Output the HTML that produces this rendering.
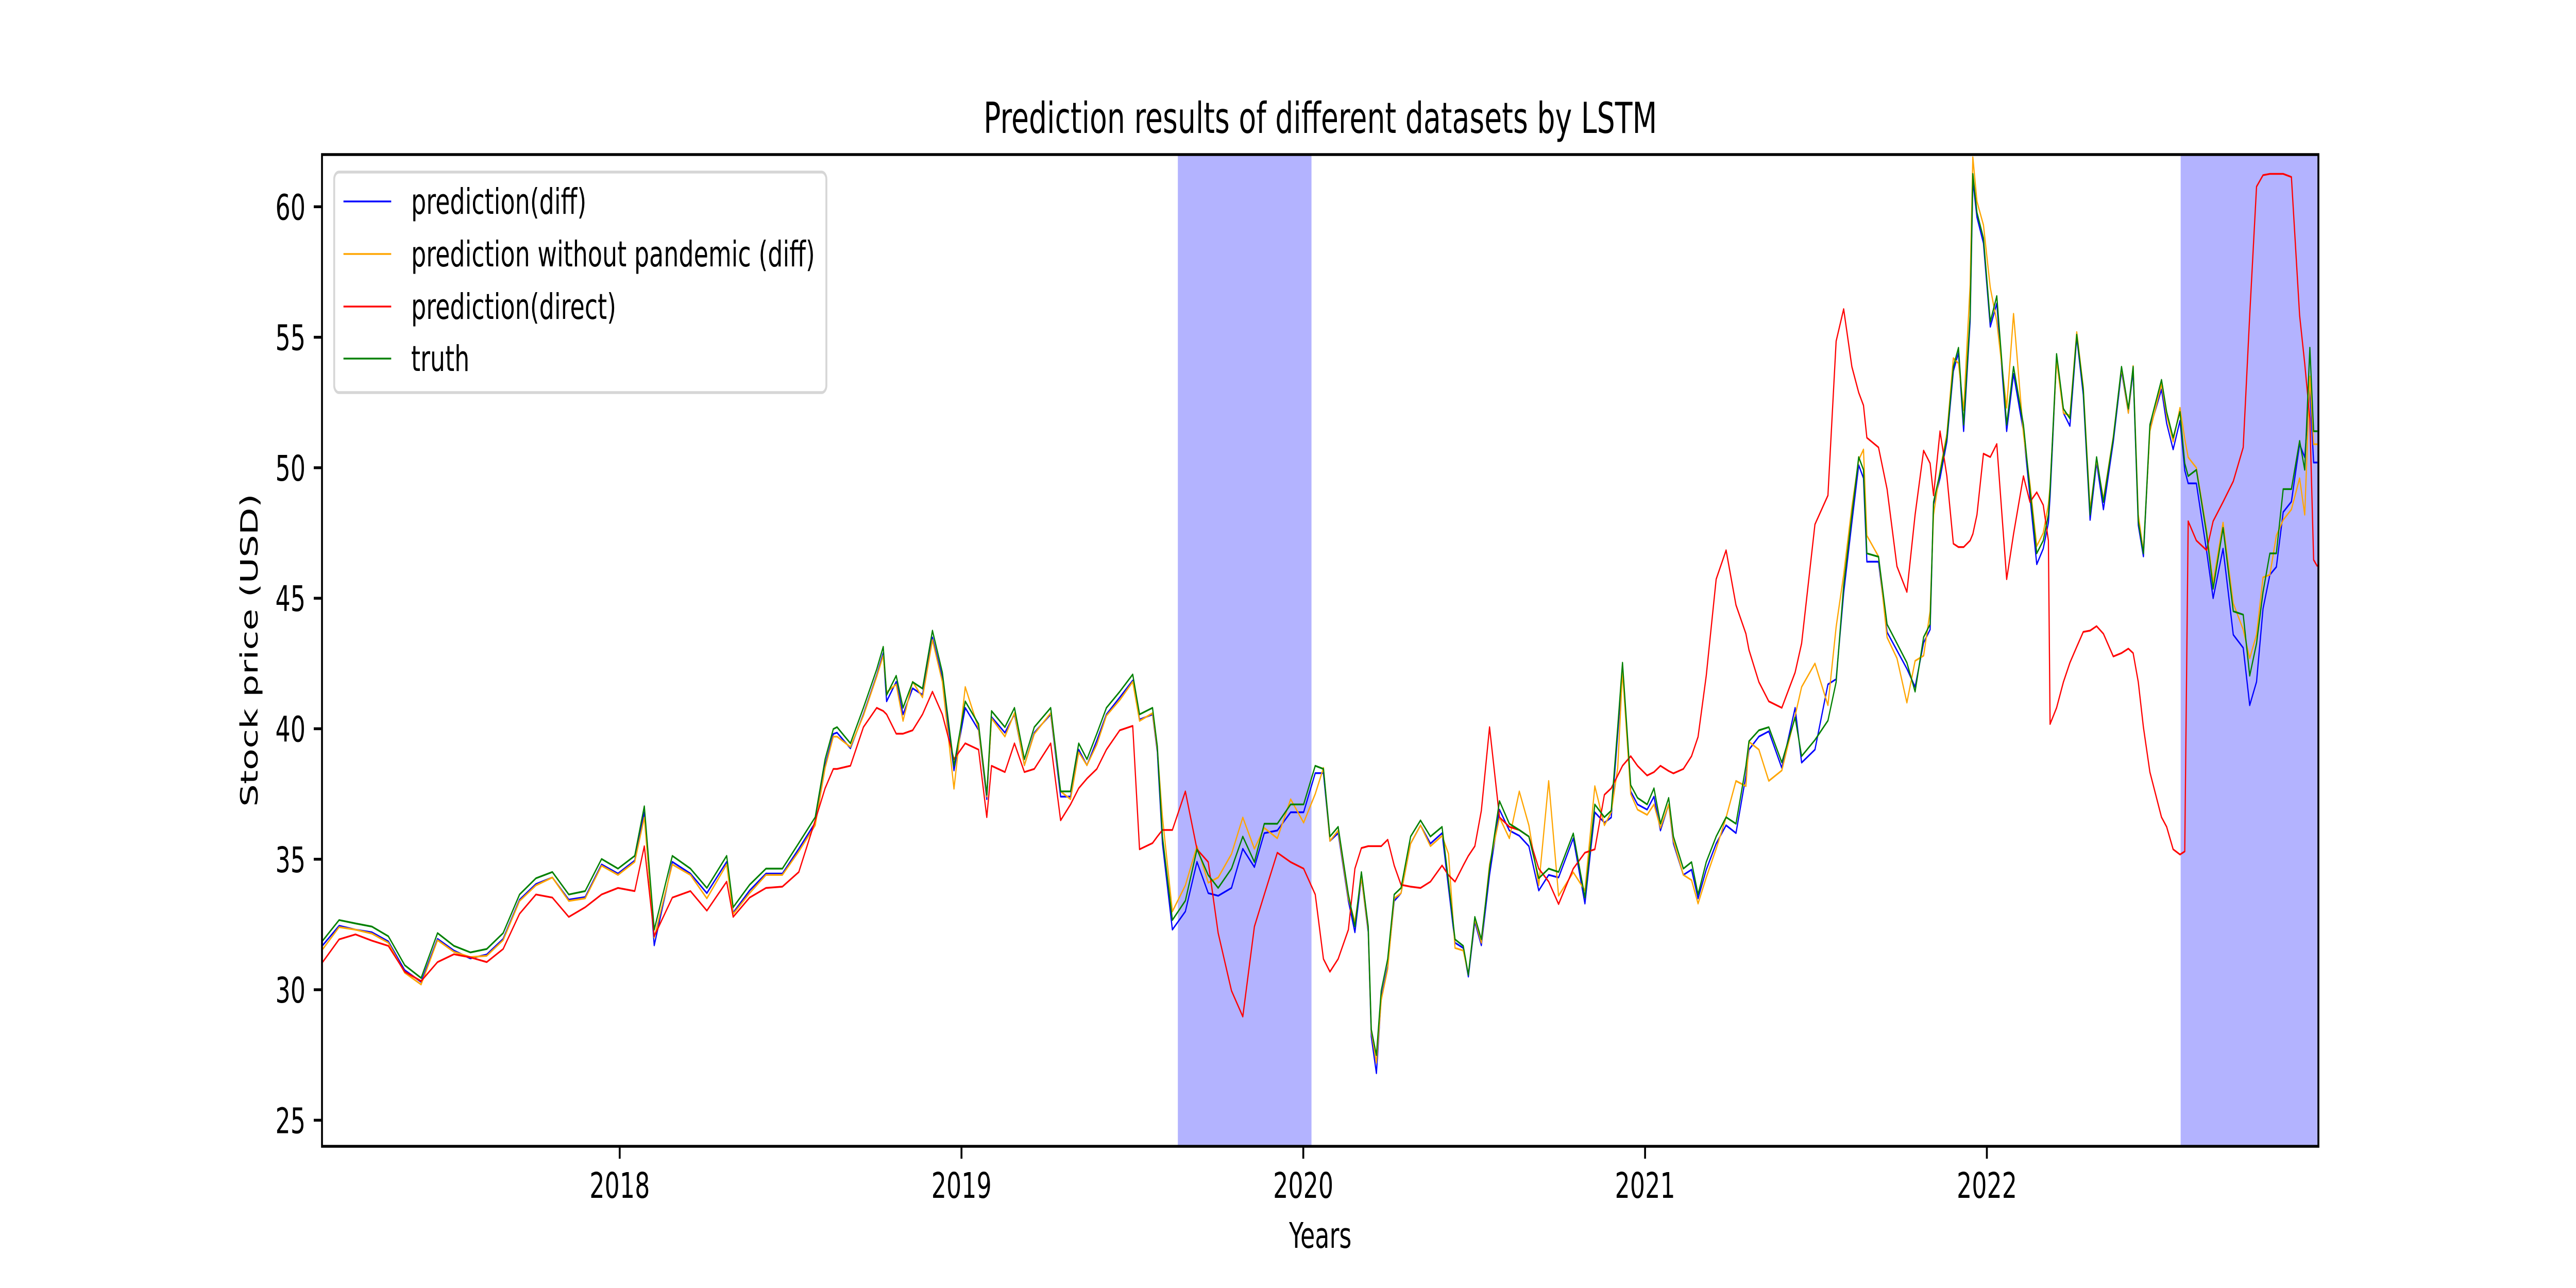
<!DOCTYPE html>
<html><head><meta charset="utf-8"><style>
html,body{margin:0;padding:0;background:#fff;overflow:hidden;width:100%;height:100%;}
svg{display:block;width:100vw;height:100vh;font-family:"DejaVu Sans","Liberation Sans",sans-serif;}
</style></head><body>
<svg id="chart" viewBox="0 0 7500 2500" preserveAspectRatio="none" xmlns="http://www.w3.org/2000/svg">
<rect width="7500" height="2500" fill="#fff"/>
<text x="3844" y="258" font-size="83" text-anchor="middle">Prediction results of different datasets by LSTM</text>
<g id="plot"></g>
<g id="axes"></g>
<text x="3844" y="2422" font-size="69" text-anchor="middle">Years</text>
<text transform="translate(750,1262) rotate(-90)" font-size="69" text-anchor="middle">Stock price (USD)</text>
<g>
<rect x="973" y="334" width="1433" height="428" rx="14" fill="#fff" fill-opacity="0.8" stroke="#d6d6d6" stroke-width="5.5"/>
<line x1="1000" y1="391" x2="1139" y2="391" stroke="blue" stroke-width="3.5"/>
<text x="1197" y="415" font-size="69">prediction(diff)</text>
<line x1="1000" y1="493" x2="1139" y2="493" stroke="orange" stroke-width="3.5"/>
<text x="1197" y="517" font-size="69">prediction without pandemic (diff)</text>
<line x1="1000" y1="595" x2="1139" y2="595" stroke="red" stroke-width="3.5"/>
<text x="1197" y="619" font-size="69">prediction(direct)</text>
<line x1="1000" y1="696" x2="1139" y2="696" stroke="green" stroke-width="3.5"/>
<text x="1197" y="720" font-size="69">truth</text>
</g>
</svg>
<script>
const dates = [2017.131,2017.179,2017.227,2017.275,2017.323,2017.371,2017.419,2017.467,2017.515,2017.563,2017.611,2017.659,2017.707,2017.755,2017.803,2017.851,2017.899,2017.947,2017.995,2018.044,2018.072,2018.101,2018.154,2018.207,2018.255,2018.313,2018.332,2018.380,2018.428,2018.476,2018.524,2018.572,2018.601,2018.625,
2018.636,2018.675,2018.713,2018.752,2018.771,2018.781,2018.809,2018.829,2018.857,2018.886,2018.915,2018.944,2018.978,2019.011,2019.050,2019.074,2019.088,2019.127,2019.155,2019.184,2019.213,2019.261,2019.290,2019.319,2019.343,2019.367,2019.396,2019.424,2019.463,2019.501,2019.521,2019.559,2019.573,2019.588,2019.617,2019.655,2019.689,2019.722,2019.751,2019.790,2019.823,2019.857,2019.886,2019.924,2019.963,2020.001,2020.035,2020.059,2020.078,2020.102,
2020.132,2020.151,2020.170,2020.190,2020.199,2020.214,2020.228,2020.247,2020.266,2020.286,2020.314,2020.343,2020.372,2020.406,2020.425,2020.444,2020.468,2020.483,2020.502,2020.521,2020.545,2020.574,2020.603,2020.632,2020.660,2020.689,2020.718,2020.747,2020.790,2020.824,2020.853,2020.881,2020.901,2020.920,2020.934,2020.958,2020.978,2021.006,2021.026,2021.045,2021.069,2021.083,2021.112,2021.136,2021.155,2021.179,2021.208,2021.237,2021.266,2021.295,2021.304,2021.333,2021.362,2021.400,2021.439,2021.458,2021.497,2021.535,2021.559,
2021.581,2021.605,2021.625,2021.639,2021.649,2021.683,2021.708,2021.737,2021.766,2021.790,2021.815,2021.834,2021.844,2021.863,2021.883,2021.902,2021.917,2021.932,2021.951,2021.959,2021.971,2021.990,2022.010,2022.029,2022.058,2022.078,2022.107,2022.126,2022.146,2022.165,2022.180,2022.185,2022.204,2022.224,2022.243,2022.263,2022.282,2022.302,2022.321,2022.341,2022.370,2022.394,2022.414,2022.428,2022.443,2022.458,2022.477,2022.511,2022.526,2022.545,2022.565,2022.579,2022.589,2022.613,2022.643,2022.662,2022.691,2022.721,2022.750,2022.769,2022.789,2022.808,2022.828,2022.847,2022.867,2022.891,2022.915,2022.930,2022.945,2022.956,2022.967];
const truth = [31.88,32.67,32.54,32.42,32.05,30.94,30.45,32.17,31.68,31.43,31.56,32.17,33.65,34.27,34.51,33.65,33.78,35.01,34.64,35.13,37.03,32.30,35.13,34.64,33.90,35.13,33.16,34.02,34.64,34.64,35.62,36.61,38.83,39.99,
40.06,39.44,40.80,42.28,43.14,41.29,42.03,40.80,41.79,41.54,43.76,42.16,38.58,41.05,40.18,37.47,40.68,40.06,40.80,38.83,40.06,40.80,37.60,37.60,39.44,38.83,39.81,40.80,41.42,42.08,40.55,40.80,39.32,35.87,32.67,33.41,35.38,34.39,33.90,34.64,35.87,34.89,36.36,36.36,37.10,37.10,38.58,38.46,35.87,36.24,
33.65,32.42,34.51,32.42,28.48,27.49,29.96,31.18,33.65,33.90,35.87,36.49,35.87,36.24,34.14,31.93,31.68,30.57,32.79,31.93,34.64,37.23,36.36,36.12,35.87,34.27,34.64,34.51,35.99,33.53,37.10,36.61,36.86,40.06,42.53,37.84,37.35,37.10,37.72,36.36,37.35,35.87,34.64,34.89,33.65,34.89,35.87,36.61,36.36,38.58,39.52,39.94,40.06,38.71,40.43,38.95,39.57,40.31,41.79,
45.48,48.20,50.41,49.92,46.72,46.59,44.00,43.27,42.53,41.42,43.51,44.00,48.69,49.80,51.15,53.87,54.60,51.65,55.84,61.26,59.78,58.80,55.59,56.58,51.65,53.87,51.65,49.18,46.72,47.21,48.20,49.18,54.36,52.26,51.89,55.10,53.00,48.20,50.41,48.69,51.15,53.87,52.26,53.87,47.95,46.72,51.65,53.37,52.14,51.15,52.14,50.17,49.68,49.92,47.46,45.36,47.70,44.50,44.37,42.03,43.27,45.24,46.72,46.72,49.18,49.18,51.03,49.92,54.60,51.40,51.40];
const predDirect = [31.06,31.93,32.12,31.88,31.68,30.69,30.33,31.06,31.36,31.24,31.06,31.56,32.91,33.65,33.53,32.79,33.16,33.65,33.90,33.78,35.50,32.05,33.53,33.78,33.03,34.14,32.79,33.53,33.90,33.95,34.51,36.49,37.72,38.46,
38.46,38.58,40.06,40.80,40.68,40.55,39.81,39.81,39.94,40.55,41.42,40.55,38.83,39.44,39.20,36.61,38.58,38.34,39.44,38.34,38.46,39.44,36.49,37.10,37.72,38.09,38.46,39.20,39.94,40.11,35.38,35.62,35.87,36.12,36.12,37.60,35.38,34.89,32.17,29.96,28.97,32.42,33.65,35.25,34.89,34.64,33.65,31.18,30.69,31.18,
32.30,34.64,35.43,35.50,35.50,35.50,35.50,35.75,34.76,34.02,33.95,33.90,34.14,34.76,34.39,34.14,34.76,35.13,35.50,36.86,40.06,36.61,36.24,36.12,35.87,34.64,34.14,33.28,34.64,35.25,35.38,37.47,37.72,38.21,38.58,38.95,38.58,38.21,38.34,38.58,38.38,38.29,38.46,38.95,39.69,42.03,45.73,46.84,44.74,43.64,43.02,41.79,41.05,40.80,42.16,43.27,47.83,48.94,54.85,
56.08,53.87,52.88,52.39,51.15,50.78,49.18,46.22,45.24,48.20,50.66,50.17,48.94,51.40,49.68,47.09,46.96,46.96,47.21,47.46,48.20,50.54,50.41,50.91,45.73,47.46,49.68,48.69,49.06,48.57,47.21,40.18,40.80,41.79,42.53,43.14,43.71,43.76,43.93,43.64,42.77,42.90,43.07,42.90,41.79,40.06,38.34,36.61,36.24,35.38,35.18,35.30,47.95,47.21,46.84,47.95,48.69,49.48,50.78,55.84,60.77,61.21,61.26,61.26,61.26,61.14,55.84,53.99,51.89,46.47,46.22];
const predDiff = [31.70,32.45,32.30,32.20,31.85,30.75,30.30,31.95,31.50,31.20,31.35,31.95,33.45,34.05,34.30,33.45,33.55,34.80,34.45,34.95,36.80,31.70,34.90,34.45,33.70,34.90,32.95,33.80,34.45,34.45,35.40,36.40,38.60,39.80,
39.85,39.25,40.55,42.05,42.90,41.05,41.80,40.55,41.55,41.30,43.50,41.95,38.40,40.80,39.95,37.30,40.45,39.85,40.55,38.60,39.85,40.55,37.40,37.40,39.20,38.60,39.55,40.55,41.20,41.85,40.35,40.55,39.10,35.60,32.30,33.00,34.90,33.70,33.60,33.90,35.40,34.70,36.00,36.10,36.80,36.80,38.30,38.30,35.70,36.00,
33.40,32.20,34.30,32.20,28.20,26.80,29.70,30.90,33.40,33.70,35.60,36.30,35.60,36.00,33.90,31.80,31.60,30.50,32.60,31.70,34.40,36.90,36.10,35.90,35.50,33.80,34.40,34.30,35.80,33.30,36.80,36.40,36.60,39.80,42.30,37.60,37.10,36.90,37.40,36.10,37.10,35.60,34.40,34.60,33.50,34.60,35.60,36.30,36.00,38.20,39.20,39.70,39.90,38.50,40.80,38.70,39.20,41.70,41.90,
45.20,47.90,50.10,49.60,46.40,46.40,43.70,43.00,42.30,41.60,43.30,43.80,48.60,49.60,51.00,53.70,54.40,51.40,55.60,61.00,59.60,58.60,55.40,56.30,51.40,53.60,51.40,48.90,46.30,46.90,47.90,48.90,54.20,52.10,51.60,55.00,52.80,48.00,50.20,48.40,51.00,53.70,52.10,53.70,47.80,46.60,51.50,53.00,51.70,50.70,51.80,49.90,49.40,49.40,46.80,45.00,46.90,43.60,43.10,40.90,41.80,44.60,45.90,46.20,48.30,48.70,50.90,50.40,53.00,50.20,50.20];
const predNoPandemic = [31.55,32.40,32.30,32.15,31.80,30.65,30.20,31.90,31.45,31.25,31.30,31.90,33.40,34.00,34.30,33.40,33.50,34.75,34.40,34.90,36.60,32.00,34.80,34.40,33.50,34.80,32.90,33.70,34.40,34.40,35.30,36.30,38.50,39.70,
39.70,39.30,40.50,42.00,42.80,41.40,41.70,40.30,41.80,41.20,43.40,41.80,37.70,41.60,40.00,37.40,40.40,39.70,40.60,38.60,39.80,40.60,37.60,37.30,39.10,38.60,39.40,40.50,41.10,41.80,40.30,40.60,39.20,36.60,33.00,34.00,35.50,34.10,34.30,35.20,36.60,35.40,36.20,35.80,37.30,36.40,37.50,38.50,35.70,36.10,
33.50,32.60,34.30,32.30,28.40,27.20,29.60,30.80,33.50,33.70,35.60,36.30,35.50,35.90,35.20,31.60,31.50,30.60,32.70,31.80,34.80,36.60,35.80,37.60,36.30,34.00,38.00,33.60,34.50,33.80,37.80,36.30,36.80,38.50,42.20,37.50,36.90,36.70,37.10,36.20,37.10,35.70,34.40,34.20,33.30,34.30,35.40,36.60,38.00,37.80,39.50,39.20,38.00,38.40,40.50,41.60,42.50,40.90,43.90,
45.90,48.50,50.30,50.70,47.40,46.60,43.50,42.70,41.00,42.60,42.80,44.50,48.20,49.90,51.30,54.20,54.00,52.20,57.00,61.90,60.20,59.30,56.90,55.60,52.30,55.90,51.30,49.40,47.00,47.50,48.60,49.30,54.10,52.10,52.00,55.20,53.10,48.40,50.30,48.80,51.20,53.80,52.10,53.90,48.20,46.80,51.40,53.20,52.00,51.00,52.30,51.10,50.40,50.00,47.60,45.60,47.90,44.80,43.80,42.70,43.60,45.80,45.90,47.40,48.00,48.40,49.60,48.20,53.50,50.90,50.90];
const shadedSpans = [[2019.633, 2020.024], [2022.567, 2022.970]];
const xTicks = [2018, 2019, 2020, 2021, 2022];
const xTickLabels = ["2018", "2019", "2020", "2021", "2022"];
const yTicks = [25, 30, 35, 40, 45, 50, 55, 60];
const yTickLabels = ["25", "30", "35", "40", "45", "50", "55", "60"];

const NS = "http://www.w3.org/2000/svg";
const L = 937.5, R = 6750, T = 300, B = 2225;
const X0 = 2017.129, X1 = 2022.970, Y0 = 24.0, Y1 = 62.0;
function xs(v){ return L + (v - X0) / (X1 - X0) * (R - L); }
function ys(v){ return B - (v - Y0) / (Y1 - Y0) * (B - T); }
function mk(tag, attrs){ const e = document.createElementNS(NS, tag); for (const k in attrs) e.setAttribute(k, attrs[k]); return e; }

const plot = document.getElementById('plot');
const axes = document.getElementById('axes');
const defs = mk('defs', {});
const cp = mk('clipPath', {id: 'clip'});
cp.appendChild(mk('rect', {x: L, y: T, width: R - L, height: B - T}));
defs.appendChild(cp);
plot.appendChild(defs);
const g = mk('g', {'clip-path': 'url(#clip)'});
plot.appendChild(g);

shadedSpans.forEach((s, i) => {
  const r = mk('rect', {x: xs(s[0]), y: T, width: xs(s[1]) - xs(s[0]), height: B - T, fill: '#b3b3ff'});
  
  
  g.appendChild(r);
});

const series = [
  {name: 'line-prediction-diff', data: predDiff, color: 'blue'},
  {name: 'line-prediction-without-pandemic', data: predNoPandemic, color: 'orange'},
  {name: 'line-prediction-direct', data: predDirect, color: 'red'},
  {name: 'line-truth', data: truth, color: 'green'}
];
series.forEach(s => {
  const d = s.data.map((v, i) => (i ? 'L' : 'M') + xs(dates[i]).toFixed(1) + ' ' + ys(v).toFixed(1)).join(' ');
  const p = mk('path', {d: d, fill: 'none', stroke: s.color, 'stroke-width': 3.5, 'stroke-linejoin': 'round'});
  
  
  g.appendChild(p);
});

const frame = mk('rect', {x: L, y: T, width: R - L, height: B - T, fill: 'none', stroke: '#000', 'stroke-width': 5.5});


axes.appendChild(frame);

xTicks.forEach((t, i) => {
  const x = xs(t);
  const tk = mk('line', {x1: x, y1: B, x2: x, y2: B + 24, stroke: '#000', 'stroke-width': 5.5});
  
  
  axes.appendChild(tk);
  const tx = mk('text', {x: x, y: B + 24 + 24 + 52, 'font-size': 69, 'text-anchor': 'middle'});
  tx.textContent = xTickLabels[i];
  
  
  axes.appendChild(tx);
});
yTicks.forEach((t, i) => {
  const y = ys(t);
  const tk = mk('line', {x1: L - 24, y1: y, x2: L, y2: y, stroke: '#000', 'stroke-width': 5.5});
  
  
  axes.appendChild(tk);
  const tx = mk('text', {x: L - 24 - 24, y: y + 25, 'font-size': 69, 'text-anchor': 'end'});
  tx.textContent = yTickLabels[i];
  
  
  axes.appendChild(tx);
});
</script>
</body></html>
